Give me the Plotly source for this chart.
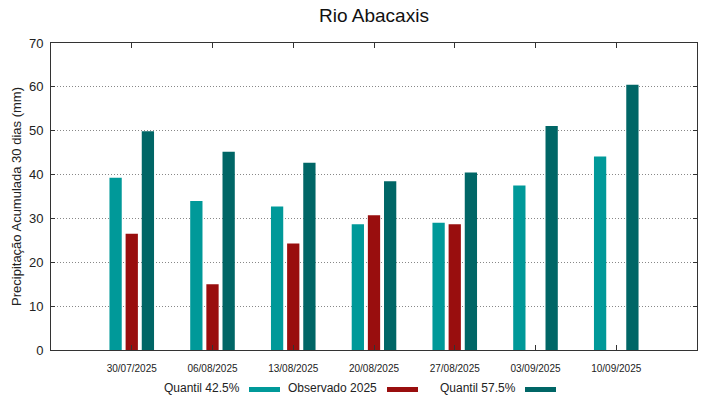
import plotly.graph_objects as go

categories = ["30/07/2025", "06/08/2025", "13/08/2025", "20/08/2025",
              "27/08/2025", "03/09/2025", "10/09/2025"]
q425 = [39.3, 34.0, 32.7, 28.7, 29.0, 37.5, 44.1]
obs2025 = [26.5, 15.0, 24.3, 30.7, 28.7, None, None]
q575 = [49.9, 45.2, 42.7, 38.5, 40.5, 51.1, 60.5]
series_names = ["Quantil 42.5%", "Observado 2025", "Quantil 57.5%"]
colors = ["#009999", "#990e0e", "#006666"]
yticks = [0, 10, 20, 30, 40, 50, 60, 70]

x = list(range(len(categories)))
FONT = "Liberation Sans, Arial, sans-serif"

fig = go.Figure()
for name, vals, col in zip(series_names, [q425, obs2025, q575], colors):
    fig.add_trace(go.Bar(x=x, y=vals, name=name, marker_color=col,
                         marker_line_width=0, showlegend=False))

fig.update_layout(
    width=719, height=399,
    margin=dict(l=51, r=22, t=43, b=49, autoexpand=False),
    paper_bgcolor="white", plot_bgcolor="white",
    barmode="group", bargap=0.4, bargroupgap=0.24,
    font=dict(family=FONT, color="#222"),
    title=dict(text="Rio Abacaxis", xref="paper", x=0.5, xanchor="center",
               yref="container", y=1 - 15 / 399, yanchor="middle",
               font=dict(size=19, family=FONT, color="#111")),
)
fig.update_xaxes(
    automargin=False,
    range=[-1, 7], tickmode="array", tickvals=x, ticktext=categories,
    tickfont=dict(size=10, family=FONT, color="#222"),
    ticks="inside", ticklen=5, tickcolor="#333", ticklabelstandoff=9,
    showline=True, linecolor="#333", linewidth=1, mirror="ticks",
    showgrid=False, zeroline=False,
)
fig.update_yaxes(
    automargin=False,
    range=[0, 70], tickmode="array", tickvals=yticks,
    tickfont=dict(size=13, family=FONT, color="#222"),
    ticks="inside", ticklen=4, tickcolor="#333", ticklabelstandoff=4,
    showline=True, linecolor="#333", linewidth=1, mirror="ticks",
    showgrid=True, gridcolor="#888", griddash="1px,2px", gridwidth=1,
    zeroline=False,
    title=dict(text="Precipitação Acumulada 30 dias (mm)", standoff=4,
               font=dict(size=13, family=FONT, color="#222")),
)

# custom gnuplot-style legend: text then swatch
leg = [(242, 249, 280), (379, 387, 418), (518, 525, 556)]
for (tx, x0, x1), name, col in zip(leg, series_names, colors):
    fig.add_annotation(xref="paper", yref="paper",
                       x=(tx - 51) / 646, y=-(388 - 350) / 307,
                       text=name, showarrow=False, xanchor="right", yanchor="middle",
                       font=dict(size=12, family=FONT, color="#222"))
    fig.add_shape(type="rect", xref="paper", yref="paper",
                  x0=(x0 - 51) / 646, x1=(x1 - 51) / 646,
                  y0=-(392 - 350) / 307, y1=-(387 - 350) / 307,
                  fillcolor=col, line_width=0)

fig.write_html("out.html", config={"displayModeBar": False},
               post_script="document.body.style.margin='0';document.body.style.overflow='hidden';")
